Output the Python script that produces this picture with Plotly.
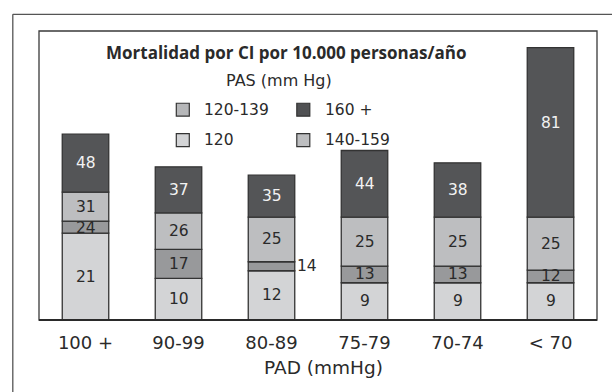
import plotly.graph_objects as go

# ---------------- data ----------------
categories = ["100 +", "90-99", "80-89", "75-79", "70-74", "< 70"]
series_names = ["120", "120-139", "140-159", "160 +"]

# printed values (labels) per PAS group
vals_120 = [21, 10, 12, 9, 9, 9]
vals_120_139 = [24, 17, 14, 13, 13, 12]
vals_140_159 = [31, 26, 25, 25, 25, 25]
vals_160 = [48, 37, 35, 44, 38, 81]

# drawn segment heights (chart units)
h_120 = [87, 41.7, 49.3, 37.3, 37.3, 37.3]
h_120_139 = [12, 29, 9, 16.7, 16.7, 12.7]
h_140_159 = [29, 36.6, 44.7, 49, 49, 53]
h_160 = [58, 46, 42, 66.7, 54.3, 169.7]

title_text = "Mortalidad por CI por 10.000 personas/año"
legend_title = "PAS (mm Hg)"
x_title = "PAD (mmHg)"

# ---------------- style ----------------
FONT = "'DejaVu Sans', sans-serif"
TFONT = "'Open Sans', sans-serif"
TXT = "#2a2a2a"
colors = {"120": "#d3d4d6", "120-139": "#98999b", "140-159": "#bdbec0", "160 +": "#545557"}
legend_colors = {"120": "#d3d4d6", "120-139": "#b6b7b9", "140-159": "#bdbec0", "160 +": "#505153"}
EDGE = "#333333"

W, H = 612, 392
L, R, T, B = 38.7, 15.3, 30.7, 72
PW = W - L - R
PH = H - T - B


def px(x):
    return (x - L) / PW


def py(y):
    return (H - B - y) / PH


heights = [h_120, h_120_139, h_140_159, h_160]
labels = [vals_120, vals_120_139, vals_140_159, vals_160]
xs = list(range(len(categories)))

fig = go.Figure()
bases = [0.0] * len(categories)
annotations = []
for name, hs, lv in zip(series_names, heights, labels):
    fig.add_trace(go.Bar(
        x=xs, y=hs, base=bases[:], width=0.5, name=name,
        marker=dict(color=colors[name], line=dict(color=EDGE, width=1.3)),
        showlegend=False, hoverinfo="skip",
    ))
    for i, (b, h, v) in enumerate(zip(bases, hs, lv)):
        tcolor = "#f2f2f2" if name == "160 +" else TXT
        ann = dict(x=i, y=b + h / 2, text=str(v), showarrow=False, xref="x", yref="y",
                   font=dict(family=FONT, size=15.5, color=tcolor),
                   xanchor="center", yanchor="middle", borderpad=0)
        if name == "120-139" and h < 10:
            ann.update(x=i + 0.25, xanchor="left", xshift=1)
        if name == "160 +" and h > 150:
            ann.update(yshift=9)
        if name == "120-139" and i == 0:
            ann.update(yshift=-1)
        annotations.append(ann)
    bases = [b + h for b, h in zip(bases, hs)]

# title & legend title
annotations.append(dict(x=px(285.4), y=py(52), xref="paper", yref="paper", text="<b>%s</b>" % title_text,
                        showarrow=False, xanchor="center", yanchor="middle",
                        font=dict(family=TFONT, size=17, color=TXT)))
annotations.append(dict(x=px(279), y=py(80), xref="paper", yref="paper", text=legend_title,
                        showarrow=False, xanchor="center", yanchor="middle",
                        font=dict(family=FONT, size=16, color=TXT)))
annotations.append(dict(x=px(323.4), y=py(368), xref="paper", yref="paper", text=x_title,
                        showarrow=False, xanchor="center", yanchor="middle",
                        font=dict(family=FONT, size=18.5, color=TXT)))

shapes = []
# manual legend
legend_items = [("120-139", 176, 109.5), ("160 +", 296.5, 109.5), ("120", 176, 140), ("140-159", 296.5, 140)]
for name, bx, cy in legend_items:
    shapes.append(dict(type="rect", xref="paper", yref="paper",
                       x0=px(bx), x1=px(bx + 13), y0=py(cy + 6.5), y1=py(cy - 6.5),
                       fillcolor=legend_colors[name], line=dict(color=EDGE, width=1.2)))
    annotations.append(dict(x=px(bx + 26), y=py(cy), xref="paper", yref="paper", text=name,
                            showarrow=False, xanchor="left", yanchor="middle",
                            font=dict(family=FONT, size=15.5, color=TXT)))

# inner frame
shapes.append(dict(type="rect", xref="paper", yref="paper", x0=0, x1=1, y0=0, y1=1,
                   line=dict(color="#3a3a3a", width=1.3), layer="above"))
shapes.append(dict(type="line", xref="paper", yref="paper", x0=0, x1=1, y0=0, y1=0,
                   line=dict(color="#2a2a2a", width=2.2), layer="above"))
# outer frame (left and top edges visible)
shapes.append(dict(type="line", xref="paper", yref="paper", x0=px(12.5), x1=px(12.5), y0=py(14), y1=py(400),
                   line=dict(color="#555555", width=1.3)))
shapes.append(dict(type="line", xref="paper", yref="paper", x0=px(12.5), x1=px(620), y0=py(14), y1=py(14),
                   line=dict(color="#555555", width=1.3)))

fig.update_layout(
    width=W, height=H,
    margin=dict(l=L, r=R, t=T, b=B),
    paper_bgcolor="white", plot_bgcolor="white",
    barmode="overlay",
    annotations=annotations, shapes=shapes,
    font=dict(family=FONT, color=TXT),
    xaxis=dict(range=[-0.5, len(categories) - 0.5], tickmode="array", tickvals=xs, ticktext=categories,
               showgrid=False, zeroline=False, showline=False, ticks="",
               tickfont=dict(family=FONT, size=18, color=TXT), ticklabelstandoff=10, fixedrange=True),
    yaxis=dict(range=[0, PH], visible=False, showgrid=False, zeroline=False, fixedrange=True),
)

fig.write_html("out.html", config={"displayModeBar": False},
               post_script="document.body.style.margin='0';document.body.style.overflow='hidden';")
